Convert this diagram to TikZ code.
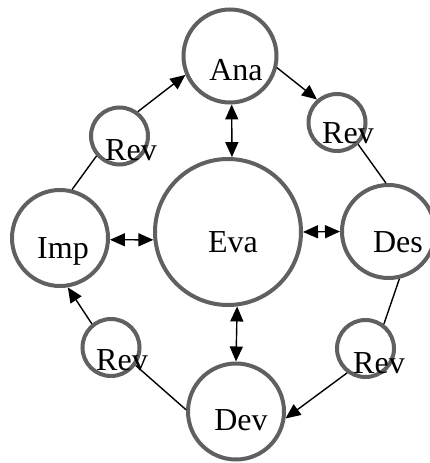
\documentclass[tikz,border=0pt]{standalone}
\usepackage{fontspec}
\setmainfont{Liberation Serif}
\usetikzlibrary{arrows.meta}
\definecolor{ringgray}{RGB}{96,96,96}
\begin{document}
\begin{tikzpicture}[x=1pt,y=-1pt,
  ring/.style={circle,draw=ringgray,line width=4pt,inner sep=0pt,minimum size=#1},
  ring/.default=57pt,
  txt/.style={font=\fontsize{32}{36}\selectfont,inner sep=0pt,text height=21pt,text depth=7pt},
  link/.style={line width=1.4pt,black},
  tip/.style={link,-{Triangle[length=15pt,width=13pt]}},
  twoway/.style={link,{Triangle[length=15pt,width=13pt]}-{Triangle[length=15pt,width=13pt]}}]
\useasboundingbox (0,0) rectangle (430,463);
% main stages
\node[ring=93pt, label={[txt,xshift=6pt,yshift=-17pt]center:Ana}] (ana) at (230,56) {};
\node[ring=146pt,label={[txt,xshift=5pt,yshift=-13pt]center:Eva}] (eva) at (228,232) {};
\node[ring=96pt, label={[txt,xshift=3pt,yshift=-13pt]center:Imp}] (imp) at (60,238) {};
\node[ring=93pt, label={[txt,xshift=9.5pt,yshift=-13.5pt]center:Des}] (des) at (388.5,231.5) {};
\node[ring=96pt, label={[txt,xshift=5pt,yshift=-11.5pt]center:Dev}] (dev) at (236,411.5) {};
% review steps
\node[ring, label={[txt,xshift=11.5pt,yshift=-17pt]center:Rev}] (revtl) at (119.5,136) {};
\node[ring, label={[txt,xshift=11pt,yshift=-13.5pt]center:Rev}] (revtr) at (337,122.5) {};
\node[ring, label={[txt,xshift=11pt,yshift=-15.5pt]center:Rev}] (revbl) at (111,347.5) {};
\node[ring, label={[txt,xshift=13.5pt,yshift=-17.5pt]center:Rev}] (revbr) at (365.5,348.5) {};
% outer cycle
\draw[tip] (revtl.53) -- (ana.203);
\draw[tip] (ana.-14) -- (revtr.131);
\draw[link] (revtr.-46) -- (des.93);
\draw[link] (des.-77) -- (revbr.53);
\draw[tip] (revbr.233) -- (dev.-8);
\draw[link] (dev.178) -- (revbl.-36);
\draw[tip] (revbl.129) -- (imp.-81);
\draw[link] (imp.76) -- (revtl.221);
% links to the centre
\draw[twoway] (ana.-88) -- (eva.87);
\draw[twoway] (imp.-2) -- (eva.186);
\draw[twoway] (eva.0) -- (des.180);
\draw[twoway] (eva.-83.5) -- (dev.90);
\end{tikzpicture}
\end{document}
